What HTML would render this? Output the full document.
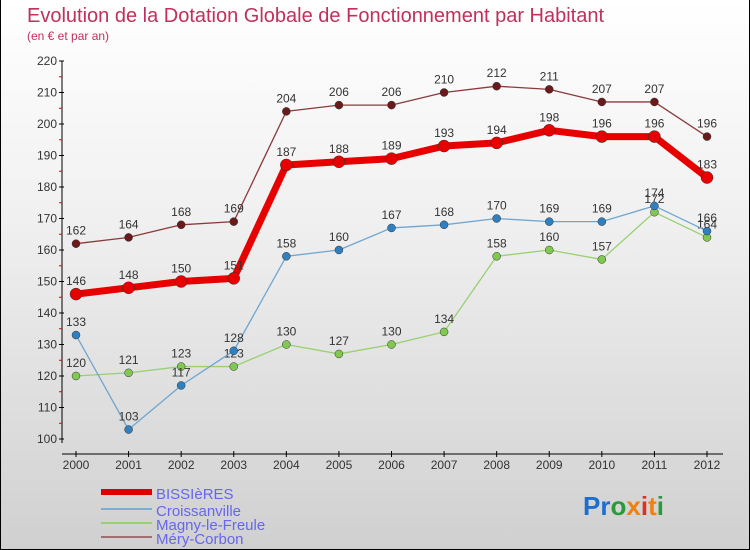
<!DOCTYPE html>
<html><head><meta charset="utf-8"><style>
body{margin:0}
#c{width:750px;height:550px;position:relative;background:linear-gradient(#ffffff,#f0f0f0 40%,#d0d0d0);box-sizing:border-box;border:1px solid #000;border-top:none;font-family:"Liberation Sans",sans-serif;overflow:hidden}
</style></head><body>
<div id="c">
<svg width="750" height="550" style="position:absolute;left:0;top:0" id="s">
<text x="26" y="22" font-size="20" fill="#c0305a">Evolution de la Dotation Globale de Fonctionnement par Habitant</text>
<text x="26" y="40" font-size="12" fill="#c0305a">(en € et par an)</text>
<g id="axes"></g><g id="series"></g>
<g>
<rect x="100" y="489" width="51" height="6" fill="#e00000"/><text x="155" y="499" font-size="15" fill="#6666ee">BISSIèRES</text>
<rect x="100" y="508" width="51" height="2" fill="#7aaed0"/><text x="155" y="516" font-size="15" fill="#6666ee">Croissanville</text>
<rect x="100" y="522" width="51" height="2" fill="#99d070"/><text x="155" y="530" font-size="15" fill="#6666ee">Magny-le-Freule</text>
<rect x="100" y="536" width="51" height="2" fill="#a07070"/><text x="155" y="544" font-size="15" fill="#6666ee">Méry-Corbon</text>
</g>
<text x="582" y="515" font-size="26" font-weight="bold"><tspan fill="#1a6fd0">Pr</tspan><tspan fill="#2a9a3a">o</tspan><tspan fill="#f08010">x</tspan><tspan fill="#e03020">i</tspan><tspan fill="#f08010">t</tspan><tspan fill="#2a9a3a">i</tspan></text>
</svg>
</div>
<script>
const years=[2000,2001,2002,2003,2004,2005,2006,2007,2008,2009,2010,2011,2012];
const bissieres=[146,148,150,151,187,188,189,193,194,198,196,196,183];
const croissanville=[133,103,117,128,158,160,167,168,170,169,169,174,166];
const magny=[120,121,123,123,130,127,130,134,158,160,157,172,164];
const mery=[162,164,168,169,204,206,206,210,212,211,207,207,196];
const yTicks=[100,110,120,130,140,150,160,170,180,190,200,210,220];
const NS="http://www.w3.org/2000/svg";
const xs=i=>75+i*(706-75)/12;
const ys=v=>439-(v-100)*(439-61)/120;
function mk(t,a,p){const e=document.createElementNS(NS,t);for(const k in a)e.setAttribute(k,a[k]);p.appendChild(e);return e;}
const ax=document.getElementById('axes');
mk('line',{x1:61,y1:61,x2:61,y2:443,stroke:'#000'},ax);
mk('line',{x1:61,y1:454,x2:722,y2:454,stroke:'#000'},ax);
yTicks.forEach(v=>{const y=ys(v);
 mk('line',{x1:58,y1:y,x2:63,y2:y,stroke:'#000'},ax);
 if(v<220)mk('line',{x1:58,y1:y-15.75,x2:61,y2:y-15.75,stroke:'#e00000'},ax);
 const t=mk('text',{x:56,y:y+4,'text-anchor':'end','font-size':12,fill:'#333'},ax);t.textContent=v;
 
 });
years.forEach((yr,i)=>{const x=xs(i);
 mk('line',{x1:x,y1:451,x2:x,y2:457,stroke:'#000'},ax);
 const t=mk('text',{x:x,y:469,'text-anchor':'middle','font-size':12,fill:'#333'},ax);t.textContent=yr;
 
 });
const sg=document.getElementById('series');
function draw(data,color,dot,w,r,name){
 const g=mk('g',{},sg);
 
 
 mk('polyline',{points:data.map((v,i)=>xs(i)+','+ys(v)).join(' '),fill:'none',stroke:color,'stroke-width':w,'stroke-linejoin':'round'},g);
 data.forEach((v,i)=>{mk('circle',{cx:xs(i),cy:ys(v),r:r,fill:dot,stroke:'#333','stroke-width':0.5},g);
  const t=mk('text',{x:xs(i),y:ys(v)-9,'text-anchor':'middle','font-size':12,fill:'#333'},g);t.textContent=v;});
}
draw(mery,'#8a3a3a','#6a1a1a',1.3,4,'series-mery-corbon');
draw(magny,'#99d070','#80c850',1.3,4,'series-magny-le-freule');
draw(croissanville,'#6fa6d0','#3080c0',1.3,4,'series-croissanville');
draw(bissieres,'#e80000','#e80000',7,6,'series-bissieres');
</script>
</body></html>
